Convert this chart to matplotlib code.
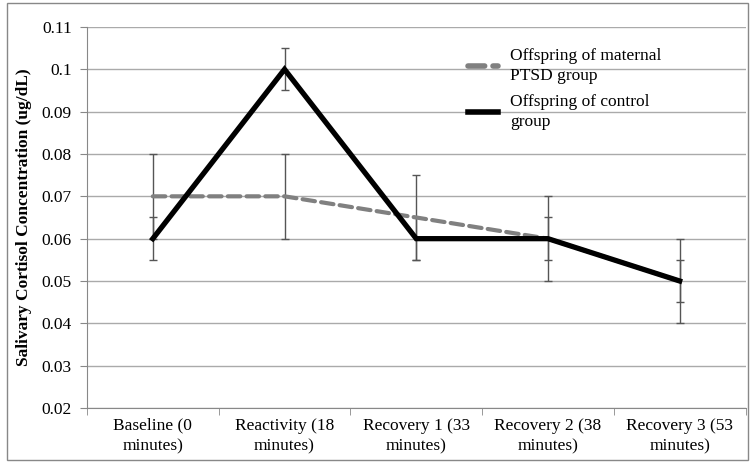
import matplotlib.pyplot as plt

categories = ['Baseline (0\nminutes)', 'Reactivity (18\nminutes)', 'Recovery 1 (33\nminutes)',
              'Recovery 2 (38\nminutes)', 'Recovery 3 (53\nminutes)']
ptsd = [0.07, 0.07, 0.065, 0.06, 0.05]
ptsd_err = [0.01, 0.01, 0.01, 0.01, 0.01]
control = [0.06, 0.10, 0.06, 0.06, 0.05]
control_err = [0.005, 0.005, 0.005, 0.005, 0.005]

plt.rcParams['font.family'] = ['Liberation Serif', 'DejaVu Serif']

fig = plt.figure(figsize=(7.51, 4.63), dpi=100)
ax = fig.add_axes([0.1158, 0.1188, 0.8769, 0.8229])

x = list(range(len(categories)))

# error bars first, lines drawn on top
ax.errorbar(x, ptsd, yerr=ptsd_err, fmt='none', ecolor='#555555', elinewidth=1, capsize=3, zorder=2)
ax.errorbar(x, control, yerr=control_err, fmt='none', ecolor='#555555', elinewidth=1, capsize=3, zorder=2)
ax.plot(x, ptsd, color='#808080', lw=3, linestyle=(0, (3, 1.5)), dash_capstyle='round',
        label='Offspring of maternal\nPTSD group', zorder=3)
ax.plot(x, control, color='black', lw=3.8, solid_joinstyle='miter',
        label='Offspring of control\ngroup', zorder=4)

ax.set_xlim(-0.5, len(categories) - 0.5)
ax.set_ylim(0.02, 0.11)
ax.set_yticks([0.02, 0.03, 0.04, 0.05, 0.06, 0.07, 0.08, 0.09, 0.1, 0.11])
ax.set_yticklabels(['0.02', '0.03', '0.04', '0.05', '0.06', '0.07', '0.08', '0.09', '0.1', '0.11'])
ax.set_xticks(x)
ax.set_xticklabels(categories, multialignment='center', linespacing=1.35)
ax.set_xticks([i - 0.5 for i in range(len(categories) + 1)], minor=True)
ax.tick_params(axis='x', which='major', length=0, pad=7, labelsize=12.5)
ax.tick_params(axis='x', which='minor', length=5, color='#888888')
ax.tick_params(axis='y', length=5, color='#888888', labelsize=12.5, pad=6)

ax.grid(axis='y', color='#aaaaaa', lw=1)
ax.set_axisbelow(True)
for s in ['top', 'right']:
    ax.spines[s].set_visible(False)
ax.spines['left'].set_color('#888888')
ax.spines['bottom'].set_color('#888888')

ax.set_ylabel('Salivary Cortisol Concentration (ug/dL)', fontsize=12.5, fontweight='bold', labelpad=7)

leg = ax.legend(loc='upper left', bbox_to_anchor=(0.555, 0.985), frameon=False, fontsize=12.5,
                handlelength=1.75, labelspacing=0.6, handletextpad=0.65)
for t in leg.get_texts():
    t.set_linespacing(1.3)
for h in leg.get_lines():
    h.set_linewidth(4)

# outer chart border
fig.patches.append(plt.Rectangle((0.0093, 0.0065), 0.987, 0.988, transform=fig.transFigure,
                                 fill=False, edgecolor='#888888', lw=1, clip_on=False))

plt.savefig('out.png', dpi=100)
